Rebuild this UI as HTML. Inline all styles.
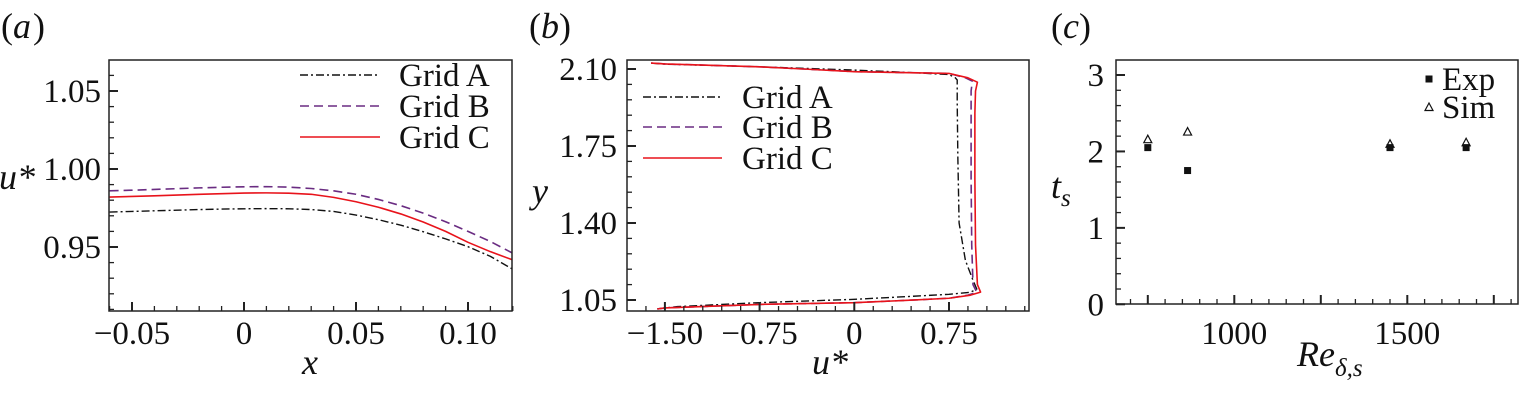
<!DOCTYPE html>
<html><head><meta charset="utf-8"><style>
html,body{margin:0;padding:0;background:#fff;}
svg{display:block;}
svg text{font-family:"Liberation Serif","DejaVu Serif",serif;}
</style></head><body>
<svg id="fig" width="1519" height="401" viewBox="0 0 1519 401"></svg>
<script>
// Panel a data
const aX = [-0.06,-0.05,-0.04,-0.03,-0.02,-0.01,0,0.01,0.02,0.03,0.04,0.05,0.06,0.07,0.08,0.09,0.10,0.11,0.12];
const aGridA = [0.9724,0.9728,0.9732,0.9736,0.9740,0.9743,0.9745,0.9746,0.9745,0.9740,0.9728,0.9705,0.9675,0.9640,0.9598,0.9552,0.9502,0.9440,0.9357];
const aGridB = [0.9860,0.9864,0.9869,0.9874,0.9879,0.9883,0.9886,0.9887,0.9884,0.9875,0.9860,0.9838,0.9805,0.9765,0.9717,0.9662,0.9600,0.9535,0.9460];
const aGridC = [0.9820,0.9824,0.9828,0.9833,0.9838,0.9842,0.9846,0.9847,0.9845,0.9838,0.9818,0.9790,0.9755,0.9712,0.9660,0.9600,0.9530,0.9470,0.9417];
const aXTicks = [-0.05,0,0.05,0.10];
const aXTickLabels = ["\u22120.05","0","0.05","0.10"];
const aYTicks = [0.95,1.00,1.05];
const aYTickLabels = ["0.95","1.00","1.05"];
// Panel b data
const bYA = [1.010,1.020,1.038,1.053,1.065,1.076,1.085,1.10,1.14,1.23,1.40,1.70,1.95,2.05,2.06,2.075,2.085,2.095,2.11,2.122,2.127];
const bUA = [-1.56,-1.40,-0.75,0,0.40,0.75,0.92,0.97,0.94,0.88,0.83,0.82,0.815,0.815,0.80,0.75,0.40,0,-0.75,-1.50,-1.61];
const bYB = [1.009,1.014,1.030,1.038,1.048,1.058,1.072,1.085,1.12,1.30,1.60,1.90,2.00,2.045,2.06,2.08,2.088,2.10,2.11,2.123,2.127];
const bUB = [-1.56,-1.50,-0.75,0,0.40,0.75,0.90,0.97,0.94,0.93,0.925,0.925,0.925,0.935,0.88,0.75,0,-0.40,-0.75,-1.50,-1.61];
const bYC = [1.009,1.014,1.030,1.038,1.048,1.058,1.072,1.086,1.12,1.30,1.60,1.90,2.00,2.04,2.06,2.08,2.088,2.10,2.11,2.123,2.127];
const bUC = [-1.56,-1.50,-0.75,0,0.40,0.75,0.92,1.00,0.975,0.96,0.955,0.955,0.96,0.975,0.90,0.75,0,-0.40,-0.75,-1.50,-1.61];
const bXTicks = [-1.50,-0.75,0,0.75];
const bXTickLabels = ["\u22121.50","\u22120.75","0","0.75"];
const bYTicks = [1.05,1.40,1.75,2.10];
const bYTickLabels = ["1.05","1.40","1.75","2.10"];
// Panel c data
const cRe = [750,865,1450,1670];
const cExp = [2.05,1.75,2.05,2.05];
const cSim = [2.16,2.26,2.10,2.12];
const cXTicks = [1000,1500];
const cXTickLabels = ["1000","1500"];
const cYTicks = [0,1,2,3];
const cYTickLabels = ["0","1","2","3"];

const svg = document.getElementById('fig');
const NS = 'http://www.w3.org/2000/svg';
const FONT = 'Liberation Serif, DejaVu Serif, serif';
const FS = 33;
function mk(tag, attrs, parent){
  const e = document.createElementNS(NS, tag);
  for (const k in attrs) e.setAttribute(k, attrs[k]);
  (parent||svg).appendChild(e);
  return e;
}
function lin(d0,d1,r0,r1){ return v => r0 + (v-d0)/(d1-d0)*(r1-r0); }

function axesFrame(g, L,T,R,B){
  const r = mk('rect',{x:L,y:T,width:R-L,height:B-T,fill:'none',stroke:'#222','stroke-width':1.5},g);
  
  
}
function xTicks(g, sx, B, from, to, step, major, len){
  for (let v=from; v<=to+1e-9; v+=step){
    const x = sx(v);
    const t = mk('line',{x1:x,x2:x,y1:B,y2:B-len,stroke:'#222','stroke-width':major?2:1.3},g);
    
    
  }
}
function yTicks(g, sy, L, from, to, step, major, len){
  for (let v=from; v<=to+1e-9; v+=step){
    const y = sy(v);
    const t = mk('line',{x1:L,x2:L+len,y1:y,y2:y,stroke:'#222','stroke-width':major?2:1.3},g);
    
    
  }
}
function text(g, x, y, s, anchor, size, name, italic){
  const t = mk('text',{x:x,y:y,'text-anchor':anchor||'middle','font-size':size||FS,fill:'#111','font-family':FONT},g);
  if (italic) t.setAttribute('font-style','italic');
  t.textContent = s;
  
  
  return t;
}
function path(g, xs, ys, sx, sy, stroke, dash, name, w){
  let d='';
  for (let i=0;i<xs.length;i++) d += (i?'L':'M')+sx(xs[i]).toFixed(2)+','+sy(ys[i]).toFixed(2);
  const p = mk('path',{d:d,fill:'none',stroke:stroke,'stroke-width':w||1.6,'stroke-linejoin':'round'},g);
  if (dash) p.setAttribute('stroke-dasharray',dash);
  
  
}
const DASHDOT = '8,3,2,3';
const DASH = '9,5';

// ---------- Panel a ----------
(function(){
  const g = mk('g',{});
  
  
  const L=109,T=60,R=512,B=311;
  const sx = lin(-0.05,0.10,132,468);
  const sy = lin(0.95,1.05,247,91);
  const cp = mk('clipPath',{id:'clipA'},g); mk('rect',{x:L,y:T,width:R-L,height:B-T},cp);
  const cg = mk('g',{'clip-path':'url(#clipA)'},g);
  path(cg, aX, aGridA, sx, sy, '#111', DASHDOT, 'grid-a-line', 1.4);
  path(cg, aX, aGridB, sx, sy, '#6a2c82', DASH, 'grid-b-line', 1.6);
  path(cg, aX, aGridC, sx, sy, '#e8131b', null, 'grid-c-line', 1.6);
  axesFrame(g,L,T,R,B);
  xTicks(g, sx, B, -0.06, 0.12, 0.01, false, 5);
  xTicks(g, sx, B, -0.05, 0.10, 0.05, true, 9);
  yTicks(g, sy, L, 0.91, 1.06, 0.01, false, 5);
  yTicks(g, sy, L, 0.95, 1.05, 0.05, true, 9);
  aXTicks.forEach((v,i)=>text(g, sx(v), 344, aXTickLabels[i], 'middle', FS, 'x-tick-label'));
  aYTicks.forEach((v,i)=>text(g, 101, sy(v)+11, aYTickLabels[i], 'end', FS, 'y-tick-label'));
  text(g, 310, 374, 'x', 'middle', 36, 'x-axis-title', true);
  text(g, 17, 189, 'u*', 'middle', 36, 'y-axis-title', true);
  text(g, 1, 38, '(', 'start', 36, 'panel-label-a');
  text(g, 13, 38, 'a', 'start', 36, 'panel-label-a-letter', true);
  text(g, 33, 38, ')', 'start', 36, 'panel-label-a-close');
  const leg = mk('g',{},g);  
  [['Grid A','#111',DASHDOT,75],['Grid B','#6a2c82',DASH,106],['Grid C','#e8131b',null,137]].forEach(e=>{
    const l = mk('line',{x1:300,x2:380,y1:e[3],y2:e[3],stroke:e[1],'stroke-width':1.5},leg);
    if (e[2]) l.setAttribute('stroke-dasharray',e[2]);
    
    
    text(leg, 399, e[3]+11, e[0], 'start', FS, 'legend-entry');
  });
})();

// ---------- Panel b ----------
(function(){
  const g = mk('g',{});
  
  
  const L=627,T=60,R=1029,B=311;
  const sx = lin(0,0.75,854.3,949);
  const sy = lin(1.05,2.10,300,69);
  const cp = mk('clipPath',{id:'clipB'},g); mk('rect',{x:L,y:T,width:R-L,height:B-T},cp);
  const cg = mk('g',{'clip-path':'url(#clipB)'},g);
  path(cg, bUA, bYA, sx, sy, '#111', DASHDOT, 'grid-a-line', 1.4);
  path(cg, bUB, bYB, sx, sy, '#6a2c82', DASH, 'grid-b-line', 1.6);
  path(cg, bUC, bYC, sx, sy, '#e8131b', null, 'grid-c-line', 1.6);
  axesFrame(g,L,T,R,B);
  xTicks(g, sx, B, -1.65, 1.35, 0.15, false, 5);
  xTicks(g, sx, B, -1.50, 0.75, 0.75, true, 9);
  yTicks(g, sy, L, 1.05, 2.10, 0.07, false, 5);
  yTicks(g, sy, L, 1.05, 2.10, 0.35, true, 9);
  bXTicks.forEach((v,i)=>text(g, sx(v), 344, bXTickLabels[i], 'middle', FS, 'x-tick-label'));
  bYTicks.forEach((v,i)=>text(g, 617, sy(v)+11, bYTickLabels[i], 'end', FS, 'y-tick-label'));
  text(g, 830, 374, 'u*', 'middle', 36, 'x-axis-title', true);
  text(g, 540, 203, 'y', 'middle', 36, 'y-axis-title', true);
  text(g, 529, 38, '(', 'start', 36, 'panel-label-b');
  text(g, 541, 38, 'b', 'start', 36, 'panel-label-b-letter', true);
  text(g, 559, 38, ')', 'start', 36, 'panel-label-b-close');
  const leg = mk('g',{},g);  
  [['Grid A','#111',DASHDOT,97],['Grid B','#6a2c82',DASH,127],['Grid C','#e8131b',null,158]].forEach(e=>{
    const l = mk('line',{x1:643,x2:722,y1:e[3],y2:e[3],stroke:e[1],'stroke-width':1.5},leg);
    if (e[2]) l.setAttribute('stroke-dasharray',e[2]);
    
    
    text(leg, 742, e[3]+11, e[0], 'start', FS, 'legend-entry');
  });
})();

// ---------- Panel c ----------
(function(){
  const g = mk('g',{});
  
  
  const L=1116,T=60,R=1518,B=304;
  const sx = lin(1000,1500,1234.3,1407.3);
  const sy = lin(0,3,304.3,75);
  axesFrame(g,L,T,R,B);
  xTicks(g, sx, B, 700, 1800, 50, false, 5);
  xTicks(g, sx, B, 750, 1750, 250, true, 9);
  yTicks(g, sy, L, 0, 3.1, 0.2, false, 5);
  yTicks(g, sy, L, 0, 3, 1, true, 9);
  cXTicks.forEach((v,i)=>text(g, sx(v), 344, cXTickLabels[i], 'middle', FS, 'x-tick-label'));
  cYTicks.forEach((v,i)=>text(g, 1104, sy(v)+11, cYTickLabels[i], 'end', FS, 'y-tick-label'));
  cRe.forEach((v,i)=>{
    const x=sx(v), y=sy(cSim[i]);
    const p = mk('path',{d:`M${x-4},${y+3.5}L${x+4},${y+3.5}L${x},${y-4}Z`,fill:'none',stroke:'#111','stroke-width':1.2},g);
    
    
  });
  cRe.forEach((v,i)=>{
    const x=sx(v), y=sy(cExp[i]);
    const r = mk('rect',{x:x-3.5,y:y-3.5,width:7,height:7,fill:'#111'},g);
    
    
  });
  const xt = mk('text',{x:1297,y:366,'font-size':36,'font-style':'italic',fill:'#111','font-family':FONT},g);
  
  
  xt.innerHTML = 'Re<tspan font-size="25" dy="10">\u03b4,s</tspan>';
  const yt = mk('text',{x:1051,y:198,'font-size':36,'font-style':'italic',fill:'#111','font-family':FONT},g);
  
  
  yt.innerHTML = 't<tspan font-size="25" dy="8">s</tspan>';
  text(g, 1051, 38, '(', 'start', 36, 'panel-label-c');
  text(g, 1063, 38, 'c', 'start', 36, 'panel-label-c-letter', true);
  text(g, 1079, 38, ')', 'start', 36, 'panel-label-c-close');
  const leg = mk('g',{},g);  
  const s = mk('rect',{x:1425.5,y:75.5,width:7,height:7,fill:'#111'},leg);
  
  
  text(leg, 1442, 90, 'Exp', 'start', FS, 'legend-entry');
  const tr = mk('path',{d:'M1425,110.5L1433,110.5L1429,103Z',fill:'none',stroke:'#111','stroke-width':1.2},leg);
  
  
  text(leg, 1442, 118, 'Sim', 'start', FS, 'legend-entry');
})();
</script>
</body></html>
